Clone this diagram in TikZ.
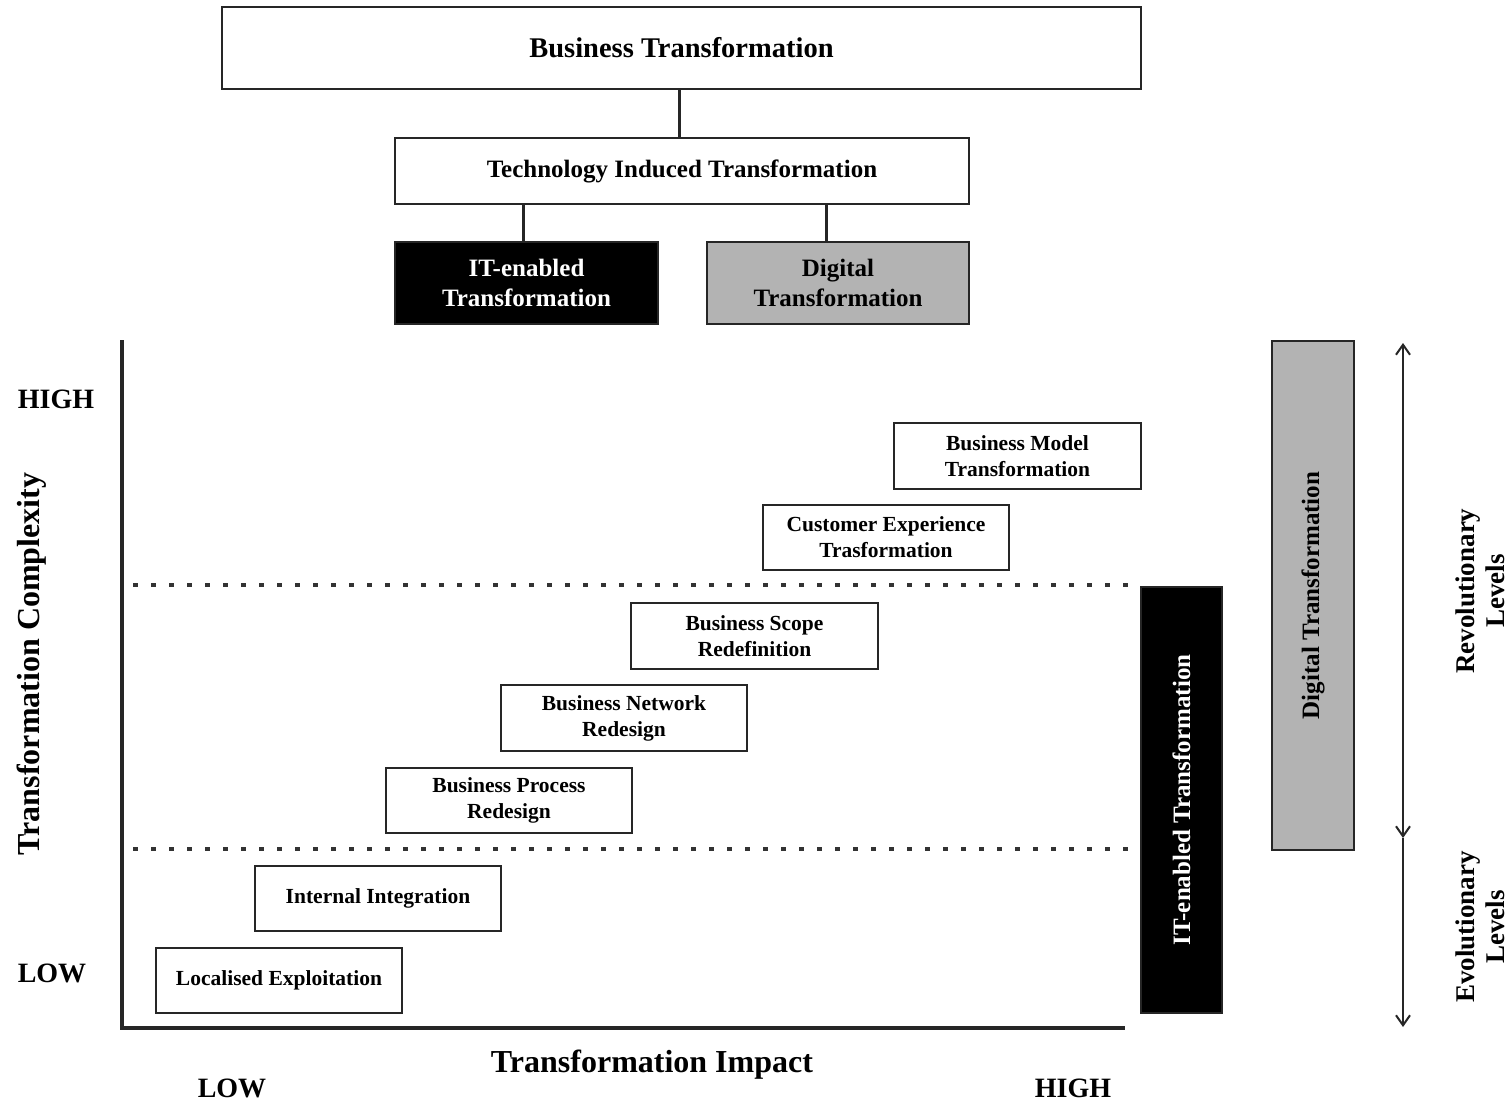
\documentclass[tikz,border=0pt]{standalone}
\usepackage{fontspec}
\setmainfont{Liberation Serif}
\usetikzlibrary{arrows.meta,calc}
\definecolor{boxgray}{HTML}{B3B3B3}
\begin{document}
\begin{tikzpicture}[x=1pt,y=-1pt,
  box/.style={draw=black!85,line width=2pt,rectangle,inner sep=0pt,align=center,font=\bfseries\fontsize{25}{30}\selectfont},
  small/.style={box,minimum width=246,minimum height=66,font=\bfseries\fontsize{21.5}{26}\selectfont},
  conn/.style={line width=3pt,black!85},
  axis/.style={line width=3.5pt,black!85},
  dotline/.style={line width=3.5pt,dash pattern=on 4.5pt off 13.5pt,black!80},
  tipb/.style={},
  lvl/.style={line width=1.8pt,black!85},
  lbl/.style={font=\bfseries\fontsize{28}{30}\selectfont,inner sep=0pt},
  albl/.style={font=\bfseries\fontsize{32}{36}\selectfont,inner sep=0pt}
]
\useasboundingbox (0,0) rectangle (1512,1102);
\fill[white] (0,0) rectangle (1512,1102);
% hierarchy
\node[box,minimum width=919,minimum height=82,font=\bfseries\fontsize{28.5}{32}\selectfont] (bt) at (681.5,48) {Business Transformation};
\node[box,minimum width=574,minimum height=66] (tit) at (682,171) {\raisebox{-2pt}{Technology Induced Transformation}};
\node[box,fill=black,text=white,minimum width=263,minimum height=82] (ite) at (526.5,283) {IT-enabled\\Transformation};
\node[box,fill=boxgray,minimum width=262,minimum height=82] (dt) at (838,283) {Digital\\Transformation};
\draw[conn] ([xshift=-2.5]bt.south) -- ([xshift=-2.5]bt.south |- tit.north);
\draw[conn] ([xshift=-3.5]ite.north) -- ([xshift=-3.5]ite.north |- tit.south);
\draw[conn] ([xshift=-12]dt.north) -- ([xshift=-12]dt.north |- tit.south);
% axes
\coordinate (O) at (122,1028);
\coordinate (ytop) at (122,340);
\coordinate (xend) at (1125,1028);
\draw[axis] (ytop) -- (O) -- (xend);
\coordinate (d1a) at (133,585);
\coordinate (d1b) at (1130,585);
\coordinate (d2a) at (133,849);
\coordinate (d2b) at (1130,849);
\draw[dotline] (d1a) -- (d1b);
\draw[dotline] (d2a) -- (d2b);
% boxes in chart
\node[small,minimum width=247] (bmt) at (1017.5,456) {Business Model\\Transformation};
\node[small,minimum height=65] (cet) at (886,537.5) {Customer Experience\\Trasformation};
\node[small,minimum width=247] (bsr) at (754.5,636) {Business Scope\\Redefinition};
\node[small] (bnr) at (624,718) {Business Network\\Redesign};
\node[small,minimum height=65] (bpr) at (509,800.5) {Business Process\\Redesign};
\node[small,minimum height=65] (ii) at (378,898.5) {Internal Integration};
\node[small,minimum height=65] (le) at (279,980.5) {Localised Exploitation};
% vertical bars
\node[box,fill=black,text=white,minimum width=81,minimum height=426] (itv) at (1181.5,800) {};
\node[rotate=90,text=white,font=\bfseries\fontsize{25}{30}\selectfont] (itvt) at (itv.center) {IT-enabled Transformation};
\node[box,fill=boxgray,minimum width=82,minimum height=509] (dtv) at (1313,595.5) {};
\node[rotate=90,font=\bfseries\fontsize{25}{30}\selectfont] (dtvt) at (dtv.center) {Digital Transformation};
% level arrows
\coordinate (a1) at (1403,343);
\coordinate (a2) at (1403,838);
\coordinate (a3) at (1403,1027);
\draw[lvl,{Straight Barb[length=10pt,width=14pt,line width=2pt]}-{Straight Barb[length=10pt,width=14pt,line width=2pt]}] (a1) -- (a2);
\draw[lvl,-{Straight Barb[length=10pt,width=14pt,line width=2pt]}] (a2) -- (a3);
\node[rotate=90,align=center,font=\bfseries\fontsize{27}{30}\selectfont] (rev) at (1480,591) {Revolutionary\\Levels};
\node[rotate=90,align=center,font=\bfseries\fontsize{27}{30}\selectfont] (evo) at (1480,927) {Evolutionary\\Levels};
% axis labels
\node[lbl] (yhigh) at (56,399) {HIGH};
\node[lbl] (ylow) at (52,973) {LOW};
\node[albl,rotate=90] (ylab) at (32,664) {Transformation Complexity};
\node[albl] (xlab) at (652,1065) {Transformation Impact};
\node[lbl] (xlow) at (232,1088) {LOW};
\node[lbl] (xhigh) at (1073,1088) {HIGH};
\end{tikzpicture}
\end{document}
